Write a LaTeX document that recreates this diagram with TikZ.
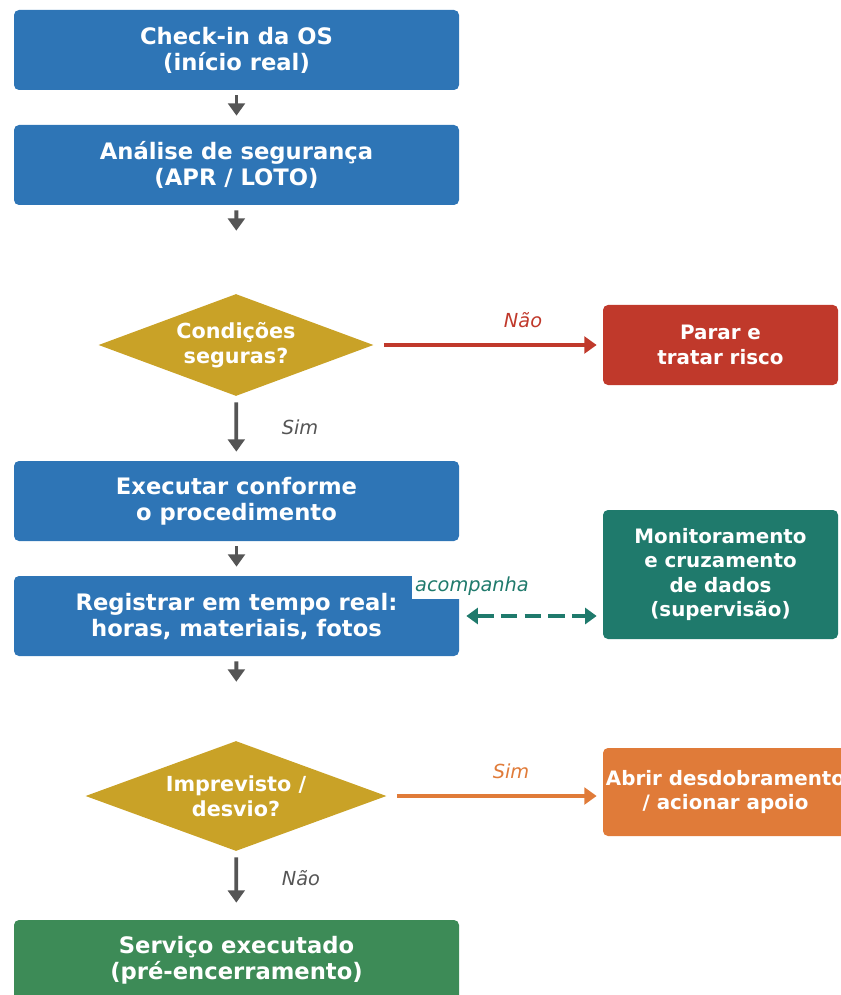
\documentclass[tikz,border=0pt]{standalone}
\usepackage{fontspec}
\setmainfont{DejaVu Sans}
\usepackage{tikz}
\usetikzlibrary{arrows.meta,shapes.geometric}

\definecolor{stepblue}{HTML}{2E75B6}
\definecolor{askgold}{HTML}{C9A227}
\definecolor{stopred}{HTML}{C0392B}
\definecolor{watchteal}{HTML}{1F7A6C}
\definecolor{helporange}{HTML}{E07B39}
\definecolor{donegreen}{HTML}{3D8B57}
\definecolor{flowgray}{HTML}{555555}

\begin{document}
\begin{tikzpicture}[%
        every node/.style={text=white, align=center, inner sep=0pt},
        stepbox/.style={rectangle, rounded corners=0.1cm, minimum width=8.9cm, minimum height=1.6cm,
                        fill=stepblue, font=\fontsize{12.9}{14.8}\selectfont\bfseries},
        sidebox/.style={rectangle, rounded corners=0.1cm, minimum width=4.7cm,
                        font=\fontsize{11.3}{14}\selectfont\bfseries},
        askbox/.style={diamond, aspect=2.7, fill=askgold, font=\fontsize{11.8}{14.2}\selectfont\bfseries},
        flow/.style={draw=flowgray, line width=2.2pt, -{Triangle[width=9.5pt,length=7pt]}},
        branch/.style={line width=2.2pt, -{Triangle[width=9.5pt,length=7pt]}},
        tag/.style={font=\fontsize{11}{13}\selectfont\itshape}
        ]
        \useasboundingbox (0,0) rectangle (16.8,-19.9);

        % main line
        \node[stepbox] (checkin) at (4.73,-1.0) {Check-in da OS\\(início real)};
        \node[stepbox] (safety) at (4.73,-3.3) {Análise de segurança\\(APR / LOTO)};
        \node[askbox, minimum width=5.5cm, minimum height=2.04cm] (safeq) at (4.72,-6.9) {Condições\\seguras?};
        \node[stepbox] (execute) at (4.73,-10.02) {Executar conforme\\o procedimento};
        \node[stepbox] (record) at (4.73,-12.32) {Registrar em tempo real:\\horas, materiais, fotos};
        \node[askbox, minimum width=6.02cm, minimum height=2.2cm] (deviq) at (4.72,-15.92) {Imprevisto /\\desvio?};
        \node[stepbox, fill=donegreen] (done) at (4.73,-19.2) {Serviço executado\\(pré-encerramento)};

        % side boxes
        \node[sidebox, fill=stopred, minimum height=1.6cm] (stop) at (14.41,-6.9) {Parar e\\tratar risco};
        \node[sidebox, fill=watchteal, minimum height=2.58cm] (watch) at (14.41,-11.49) {Monitoramento\\e cruzamento\\de dados\\(supervisão)};
        \node[sidebox, fill=helporange, minimum width=4.9cm, minimum height=1.76cm] (help) at (14.51,-15.84) {Abrir desdobramento\\/ acionar apoio};

        % connectors
        \draw[flow, shorten <=0.1cm, shorten >=0.18cm] (checkin) -- (safety);
        \draw[flow, shorten <=0.1cm, shorten >=1.26cm] (safety) -- (safeq);
        \draw[flow, shorten <=0.12cm, shorten >=0.18cm] (safeq) -- (execute);
        \draw[flow, shorten <=0.1cm, shorten >=0.18cm] (execute) -- (record);
        \draw[flow, shorten <=0.1cm, shorten >=1.18cm] (record) -- (deviq);
        \draw[flow, shorten <=0.12cm, shorten >=0.34cm] (deviq) -- (done);
        \draw[branch, draw=stopred, shorten <=0.2cm, shorten >=0.12cm] (safeq) -- (stop);
        \draw[branch, draw=helporange, shorten <=0.2cm, shorten >=0.12cm] (deviq.east) -- (deviq.east -| help.west);
        \draw[watchteal, line width=1.9pt, dash pattern=on 9.5pt off 4pt,
              {Triangle[width=9pt,length=6.5pt]}-{Triangle[width=9pt,length=6.5pt]},
              shorten <=0.14cm, shorten >=0.12cm] (record.east) -- (record.east -| watch.west);

        % labels
        \node[tag, text=stopred] (no1) at (10.46,-6.4) {Não};
        \node[tag, text=flowgray] (yes1) at (6.0,-8.54) {Sim};
        \node[tag, text=watchteal, fill=white, inner sep=2pt] (follows) at (9.44,-11.72) {acompanha};
        \node[tag, text=helporange] (yes2) at (10.22,-15.42) {Sim};
        \node[tag, text=flowgray] (no2) at (6.02,-17.56) {Não};
\end{tikzpicture}
\end{document}
